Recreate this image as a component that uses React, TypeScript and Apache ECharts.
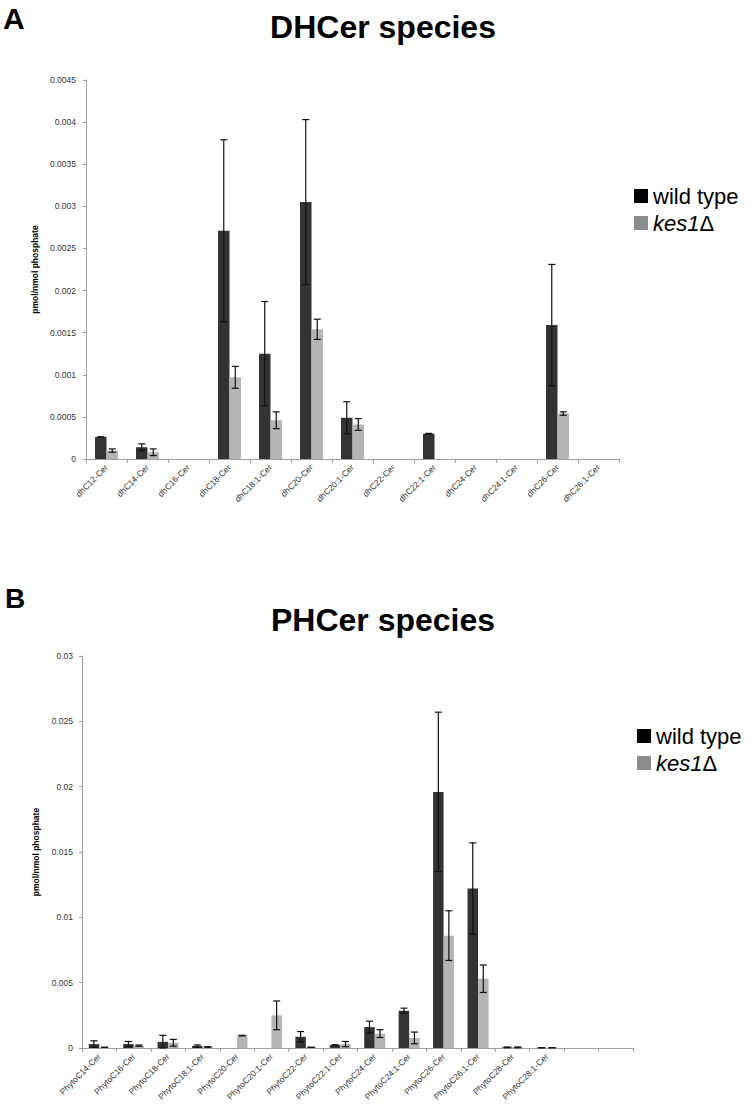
import React, { useEffect, useRef } from "react";
import * as echarts from "echarts";

const dhCategories = ["dhC12-Cer", "dhC14-Cer", "dhC16-Cer", "dhC18-Cer", "dhC18:1-Cer", "dhC20-Cer", "dhC20:1-Cer", "dhC22-Cer", "dhC22:1-Cer", "dhC24-Cer", "dhC24:1-Cer", "dhC26-Cer", "dhC26:1-Cer"];
const dhWild = [0.00026, 0.00014, null, 0.00271, 0.00125, 0.00305, 0.00049, null, 0.0003, null, null, 0.00159, null];
const dhWildErr = [0.000004, 0.00004, null, 0.00108, 0.00062, 0.00098, 0.00019, null, 0.000004, null, null, 0.00072, null];
const dhKes = [0.0001, 0.00008, null, 0.00097, 0.00046, 0.00154, 0.00041, null, null, null, null, 0.00054, null];
const dhKesErr = [0.00002, 0.00004, null, 0.00013, 0.0001, 0.00012, 0.00007, null, null, null, null, 0.00002, null];

const phCategories = ["PhytoC14-Cer", "PhytoC16-Cer", "PhytoC18-Cer", "PhytoC18:1-Cer", "PhytoC20-Cer", "PhytoC20:1-Cer", "PhytoC22-Cer", "PhytoC22:1-Cer", "PhytoC24-Cer", "PhytoC24:1-Cer", "PhytoC26-Cer", "PhytoC26:1-Cer", "PhytoC28-Cer", "PhytoC28:1-Cer", "", ""];
const phWild = [0.0003, 0.0003, 0.00047, 0.00015, null, null, 0.00086, 0.00022, 0.0016, 0.00285, 0.0196, 0.0122, 0.00005, 0.00002, null, null];
const phWildErr = [0.00025, 0.0002, 0.0005, 0.00008, null, null, 0.0004, 0.00003, 0.00045, 0.0002, 0.0061, 0.0035, 0.00003, 0, null, null];
const phKes = [0.00005, 0.00018, 0.0004, 0.00008, 0.00095, 0.0025, 0.00005, 0.0003, 0.0011, 0.00077, 0.0086, 0.0053, 0.00005, 0.00002, null, null];
const phKesErr = [0, 0.00005, 0.00026, 0.00002, 0.00002, 0.0011, 0, 0.0002, 0.0003, 0.00045, 0.0019, 0.00105, 0.00003, 0, null, null];

const seriesNames = ["wild type", "kes1Δ"];
const DARK = "#333333";
const LIGHT = "#b5b5b5";
const FONT = '"Liberation Sans", Arial, sans-serif';

function barData(vals: (number | null)[]) {
  return vals.map((v) => (v == null ? "-" : v));
}

function errData(vals: (number | null)[], errs: (number | null)[]) {
  const out: number[][] = [];
  vals.forEach((v, i) => {
    const e = errs[i];
    if (v != null && e != null) out.push([i, v, e]);
  });
  return out;
}

function errSeries(name: string, data: number[][], axis: number, side: number, gap: number) {
  return {
    type: "custom",
    name,
    xAxisIndex: axis,
    yAxisIndex: axis,
    z: 10,
    silent: true,
    data,
    renderItem: (params: any, api: any) => {
      const idx = api.value(0);
      const v = api.value(1);
      const e = api.value(2);
      const top = api.coord([idx, v + e]);
      const bot = api.coord([idx, Math.max(0, v - e)]);
      const catW = api.size([1, 0])[0];
      const barW = (catW * (1 - gap)) / 2;
      const x = top[0] + (side * barW) / 2;
      const cap = 3.5;
      const style = { stroke: "#111", lineWidth: 1.2 };
      return {
        type: "group",
        children: [
          { type: "line", shape: { x1: x, y1: top[1], x2: x, y2: bot[1] }, style },
          { type: "line", shape: { x1: x - cap, y1: top[1], x2: x + cap, y2: top[1] }, style },
          { type: "line", shape: { x1: x - cap, y1: bot[1], x2: x + cap, y2: bot[1] }, style },
        ],
      };
    },
  };
}

function xAxis(cats: string[], gridIndex: number) {
  return {
    type: "category",
    gridIndex,
    data: cats,
    axisLine: { lineStyle: { color: "#a0a0a0", width: 1 } },
    axisTick: { show: true, length: 4, lineStyle: { color: "#a0a0a0" } },
    axisLabel: { rotate: 45, fontSize: 8.5, fontFamily: FONT, color: "#333", margin: 7, interval: 0 },
  };
}

function yAxis(gridIndex: number, max: number, interval: number, nameGap: number, margin: number) {
  return {
    type: "value",
    gridIndex,
    min: 0,
    max,
    interval,
    name: "pmol/nmol phosphate",
    nameLocation: "middle",
    nameRotate: 90,
    nameGap,
    nameTextStyle: { fontSize: 8.5, fontWeight: "bold", fontFamily: FONT, color: "#000" },
    axisLine: { show: true, lineStyle: { color: "#a0a0a0", width: 1 } },
    axisTick: { show: true, length: 3, lineStyle: { color: "#a0a0a0" } },
    splitLine: { show: false },
    axisLabel: { fontSize: 8.5, fontFamily: FONT, color: "#333", margin },
  };
}

function legend(left: number, top: number) {
  return {
    orient: "vertical",
    left,
    top,
    padding: 0,
    itemWidth: 14,
    itemHeight: 14,
    itemGap: 5,
    icon: "rect",
    data: [
      { name: seriesNames[0], itemStyle: { color: "#000" } },
      { name: seriesNames[1], itemStyle: { color: "#8c8c8c" } },
    ],
    formatter: (name: string) => (name === seriesNames[1] ? "{i|kes1}{n|Δ}" : "{n|" + name + "}"),
    textStyle: {
      rich: {
        i: { fontSize: 22, fontStyle: "italic", fontFamily: FONT, color: "#000" },
        n: { fontSize: 22, fontFamily: FONT, color: "#000" },
      },
    },
  };
}

export default function App() {
  const ref = useRef<HTMLDivElement>(null);
  useEffect(() => {
    document.body.style.margin = "0";
    if (!ref.current) return;
    const chart = echarts.init(ref.current, null, { renderer: "svg" });
    const gapTop = 0.44;
    const gapBot = 0.39;
    chart.setOption({
      animation: false,
      backgroundColor: "#fff",
      grid: [
        { left: 86, top: 80, width: 533, height: 379 },
        { left: 82, top: 656, width: 551, height: 392 },
      ],
      xAxis: [xAxis(dhCategories, 0), xAxis(phCategories, 1)],
      yAxis: [yAxis(0, 0.0045, 0.0005, 40, 10), yAxis(1, 0.03, 0.005, 35, 9)],
      legend: [legend(634, 185), legend(637, 725)],
      graphic: [
        { type: "text", x: 3, y: 18, style: { text: "A", font: "bold 30px " + FONT, fill: "#000", textAlign: "left", textVerticalAlign: "middle", verticalAlign: "middle" } },
        { type: "text", x: 383, y: 27, style: { text: "DHCer species", font: "bold 32px " + FONT, fill: "#000", textAlign: "center", textVerticalAlign: "middle", verticalAlign: "middle" } },
        { type: "text", x: 5, y: 598, style: { text: "B", font: "bold 28px " + FONT, fill: "#000", textAlign: "left", textVerticalAlign: "middle", verticalAlign: "middle" } },
        { type: "text", x: 383, y: 620, style: { text: "PHCer species", font: "bold 32px " + FONT, fill: "#000", textAlign: "center", textVerticalAlign: "middle", verticalAlign: "middle" } },
      ],
      series: [
        { type: "bar", name: seriesNames[0], xAxisIndex: 0, yAxisIndex: 0, data: barData(dhWild), itemStyle: { color: DARK }, barGap: "0%", barCategoryGap: gapTop * 100 + "%" },
        { type: "bar", name: seriesNames[1], xAxisIndex: 0, yAxisIndex: 0, data: barData(dhKes), itemStyle: { color: LIGHT } },
        errSeries(seriesNames[0], errData(dhWild, dhWildErr), 0, -1, gapTop),
        errSeries(seriesNames[1], errData(dhKes, dhKesErr), 0, 1, gapTop),
        { type: "bar", name: seriesNames[0], xAxisIndex: 1, yAxisIndex: 1, data: barData(phWild), itemStyle: { color: DARK }, barGap: "0%", barCategoryGap: gapBot * 100 + "%" },
        { type: "bar", name: seriesNames[1], xAxisIndex: 1, yAxisIndex: 1, data: barData(phKes), itemStyle: { color: LIGHT } },
        errSeries(seriesNames[0], errData(phWild, phWildErr), 1, -1, gapBot),
        errSeries(seriesNames[1], errData(phKes, phKesErr), 1, 1, gapBot),
      ],
    });
    return () => chart.dispose();
  }, []);
  return <div ref={ref} style={{ width: 752, height: 1112 }} />;
}
